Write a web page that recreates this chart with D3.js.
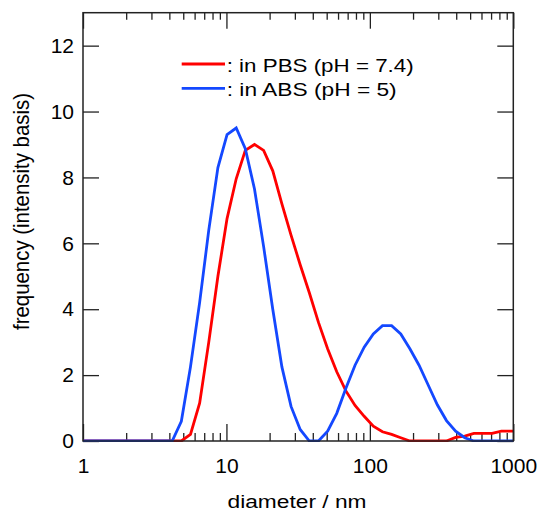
<!DOCTYPE html>
<html lang="en">
<head>
  <meta charset="utf-8">
  <title>DLS size distribution</title>
  <script src="https://d3js.org/d3.v7.min.js"></script>
  <style>
    body { margin: 0; background: #fff; }
    svg text { font-family: "Liberation Sans", Arial, sans-serif; fill: #000; }
  </style>
</head>
<body>
<div class="chart"></div>
<script>
// size bins (nm) and frequency values
var sizes = [0.9649, 1.117, 1.294, 1.499, 1.736, 2.01, 2.328, 2.696, 3.122, 3.615,
  4.187, 4.849, 5.615, 6.503, 7.531, 8.721, 10.1,
  11.7, 13.54, 15.69, 18.17, 21.04, 24.36, 28.21, 32.67, 37.84, 43.82, 50.75, 58.77, 68.06, 78.82, 91.28, 105.7,
  122.4, 141.8, 164.2, 190.1, 220.2, 255, 295.3, 342, 396.1, 458.7, 531.2, 615.1, 712.4, 825, 955.4, 1106];

var pbs = [0, 0, 0, 0, 0, 0, 0, 0, 0, 0,
  0, 0, 0.2, 1.15, 3.0, 5.0, 6.75,
  7.96, 8.82, 9.0, 8.82, 8.2, 7.2, 6.25, 5.35, 4.5, 3.6, 2.8, 2.1, 1.52, 1.08, 0.75, 0.45,
  0.28, 0.2, 0.1, 0, 0, 0, 0, 0, 0.11, 0.15, 0.23, 0.23, 0.23, 0.3, 0.3, 0.3];

var abs = [0, 0, 0, 0, 0, 0, 0, 0, 0, 0,
  0, 0.6, 2.25, 4.2, 6.4, 8.3, 9.3,
  9.5, 8.87, 7.65, 5.9, 4.0, 2.25, 1.05, 0.35, 0, 0, 0.3, 0.84, 1.6, 2.3, 2.85, 3.25,
  3.5, 3.5, 3.25, 2.8, 2.3, 1.7, 1.1, 0.62, 0.3, 0.1, 0, 0, 0, 0, 0, 0];

var xMajor = [1, 10, 100, 1000];
var yTicks = [0, 2, 4, 6, 8, 10, 12];
var legendLabels = [": in PBS (pH = 7.4)", ": in ABS (pH = 5)"];
var legendWidths = [187, 170];
var colors = ["#ff0000", "#1448ff"];

var W = 550, H = 521;
var m = {top: 12.7, right: 36.7, bottom: 80, left: 83};
var w = W - m.left - m.right,
    h = H - m.top - m.bottom;

var svg = d3.select(".chart").append("svg")
  .attr("width", W)
  .attr("height", H);

var g = svg.append("g")
  .attr("transform", "translate(" + m.left + "," + m.top + ")");

var x = d3.scaleLog().domain([1, 1000]).range([0, w]);
var y = d3.scaleLinear().domain([0, 13]).range([h, 0]);

// minor ticks 2..9 of each decade
var xMinor = [];
[1, 10, 100].forEach(function(d){
  for (var k = 2; k < 10; k++) xMinor.push(d * k);
});

function styleAxis(sel){
  sel.select(".domain").remove();
  sel.selectAll(".tick line").attr("stroke", "#222").attr("stroke-width", 1.3);
  sel.selectAll("text").style("font-size", "21px");
}

g.append("g")
  .attr("transform", "translate(0," + h + ")")
  .call(d3.axisBottom(x).tickValues(xMajor).tickFormat(d3.format("d")).tickSize(-17).tickPadding(17))
  .call(styleAxis);
g.append("g")
  .attr("transform", "translate(0," + h + ")")
  .call(d3.axisBottom(x).tickValues(xMinor).tickFormat("").tickSize(-8))
  .call(styleAxis);
g.append("g")
  .call(d3.axisTop(x).tickValues(xMajor).tickFormat("").tickSize(-16))
  .call(styleAxis);
g.append("g")
  .call(d3.axisTop(x).tickValues(xMinor).tickFormat("").tickSize(-7))
  .call(styleAxis);
g.append("g")
  .call(d3.axisLeft(y).tickValues(yTicks).tickSize(-16).tickPadding(9))
  .call(styleAxis);
g.append("g")
  .attr("transform", "translate(" + w + ",0)")
  .call(d3.axisRight(y).tickValues(yTicks).tickFormat("").tickSize(-16))
  .call(styleAxis);

g.append("clipPath").attr("id", "clip")
  .append("rect").attr("width", w).attr("height", h + 2).attr("y", -1);

var line = d3.line()
  .x(function(d){ return x(d[0]); })
  .y(function(d){ return y(d[1]); });

var series = [pbs, abs];
series.forEach(function(vals, i){
  g.append("path")
    .datum(sizes.map(function(s, j){ return [s, vals[j]]; }))
    .attr("clip-path", "url(#clip)")
    .attr("fill", "none")
    .attr("stroke", colors[i])
    .attr("stroke-width", 2.8)
    .attr("stroke-linejoin", "miter")
    .attr("d", line);
});

g.append("rect")
  .attr("width", w)
  .attr("height", h)
  .attr("fill", "none")
  .attr("stroke", "#222")
  .attr("stroke-width", 1.5);

// legend
var leg = svg.append("g").attr("transform", "translate(181.7,64)");
legendLabels.forEach(function(t, i){
  leg.append("line")
    .attr("x1", 0).attr("x2", 43.3)
    .attr("y1", i * 24.3).attr("y2", i * 24.3)
    .attr("stroke", colors[i])
    .attr("stroke-width", 2.8);
  leg.append("text")
    .attr("x", 45)
    .attr("y", i * 24.3 + 7.7)
    .attr("textLength", legendWidths[i])
    .attr("lengthAdjust", "spacingAndGlyphs")
    .style("font-size", "18.7px")
    .text(t);
});

// axis titles
svg.append("text")
  .attr("x", 227.5)
  .attr("y", 508)
  .attr("textLength", 139)
  .attr("lengthAdjust", "spacingAndGlyphs")
  .style("font-size", "18.7px")
  .text("diameter / nm");

svg.append("text")
  .attr("transform", "translate(29,330) rotate(-90)")
  .attr("textLength", 237)
  .attr("lengthAdjust", "spacingAndGlyphs")
  .style("font-size", "21.5px")
  .text("frequency (intensity basis)");
</script>
</body>
</html>
